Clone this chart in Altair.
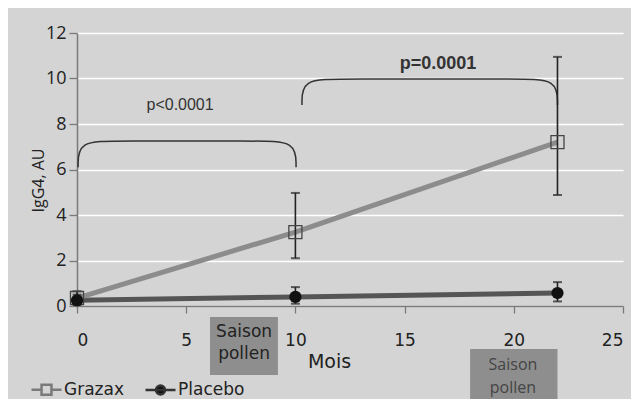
import altair as alt
import pandas as pd

# ---- data ----
months = [0, 10, 22]
grazax = [0.35, 3.25, 7.2]
grazax_lo = [0.1, 2.1, 4.88]
grazax_hi = [0.65, 4.97, 10.95]
placebo = [0.25, 0.4, 0.57]
placebo_lo = [0.05, 0.1, 0.2]
placebo_hi = [0.5, 0.83, 1.05]
series_names = ["Grazax", "Placebo"]

x_ticks = [0, 5, 10, 15, 20, 25]
y_ticks = [0, 2, 4, 6, 8, 10, 12]

# significance brackets (data units)
bracket_x0 = [0.05, 10.3]
bracket_x1 = [10.03, 22.0]
bracket_low = [6.1, 8.84]
bracket_top = [7.25, 9.98]
bracket_corner = [1.8, 1.8]

p_labels = ["p<0.0001", "p=0.0001"]
p_x = [4.72, 16.53]
p_y = [8.84, 10.64]

# pollen season boxes (data units, below the axis)
season_text = ["Saison\npollen", "Saison\npollen"]
season_x0 = [6.09, 18.0]
season_x1 = [9.2, 22.0]
season_y0 = [-0.48, -1.89]
season_y1 = [-3.03, -4.26]
season_tx = [7.65, 19.96]
season_ty = [-1.14, -2.59]

# ---- tables ----
df = pd.DataFrame({
    "month": months * 2,
    "value": grazax + placebo,
    "lo": grazax_lo + placebo_lo,
    "hi": grazax_hi + placebo_hi,
    "series": ["Grazax"] * 3 + ["Placebo"] * 3,
})
df_g = df[df.series == "Grazax"]
df_p = df[df.series == "Placebo"]

rows = []
for b in range(2):
    x0, x1, lo, top, c = bracket_x0[b], bracket_x1[b], bracket_low[b], bracket_top[b], bracket_corner[b]
    pts = [(x0, lo), (x0, top), (x0 + c, top), (x1 - c, top), (x1, top), (x1, lo)]
    for i, (px, py) in enumerate(pts):
        rows.append({"b": b, "i": i, "x": px, "y": py})
df_br = pd.DataFrame(rows)

df_p_lab = pd.DataFrame({"t": p_labels, "x": p_x, "y": p_y})
df_season = pd.DataFrame({"t": season_text, "x0": season_x0, "x1": season_x1,
                          "y0": season_y0, "y1": season_y1, "tx": season_tx, "ty": season_ty})

# ---- scales / axes ----
xs = alt.Scale(domain=[0, 25], nice=False, zero=False)
ys = alt.Scale(domain=[0, 12], nice=False, zero=False)
xaxis = alt.Axis(values=x_ticks, title="Mois", grid=False, labelFont="DejaVu Sans",
                 labelFontSize=17, labelPadding=19, tickSize=7,
                 titleFont="DejaVu Sans", titleFontSize=19, titleFontWeight="normal",
                 titleColor="#222", titleX=252, titleY=61, titleBaseline="alphabetic",
                 titleAlign="center")
yaxis = alt.Axis(values=y_ticks, title="IgG4, AU", grid=True, gridColor="white", gridWidth=1.5,
                 labelFont="Open Sans", labelFontSize=18, labelPadding=3, tickSize=8,
                 titleFont="Open Sans", titleFontSize=16, titleFontWeight="normal",
                 titleColor="#222", titleX=-34, titleY=147, titleAngle=270,
                 titleAlign="center", titleBaseline="alphabetic")


def X(f):
    return alt.X(f, type="quantitative", scale=xs, axis=xaxis)


def Y(f):
    return alt.Y(f, type="quantitative", scale=ys, axis=yaxis)


season_boxes = alt.Chart(df_season).mark_rect(color="#8e8e8e").encode(
    x=X("x0"), x2="x1", y=Y("y0"), y2="y1")
season_t1 = alt.Chart(df_season.iloc[[0]]).mark_text(
    lineBreak="\n", font="DejaVu Sans", fontSize=17, color="#222", lineHeight=22,
    align="center", baseline="middle").encode(x=X("tx"), y=Y("ty"), text="t")
season_t2 = alt.Chart(df_season.iloc[[1]]).mark_text(
    lineBreak="\n", font="Open Sans", fontSize=16, color="#444", lineHeight=23,
    align="center", baseline="middle").encode(x=X("tx"), y=Y("ty"), text="t")

brackets = alt.Chart(df_br).mark_line(color="#333", strokeWidth=1.5, interpolate="basis").encode(
    x=X("x"), y=Y("y"), detail="b:N", order="i:Q")

p1 = alt.Chart(df_p_lab.iloc[[0]]).mark_text(font="Liberation Sans", fontSize=16, color="#333").encode(
    x=X("x"), y=Y("y"), text="t")
p2 = alt.Chart(df_p_lab.iloc[[1]]).mark_text(font="Liberation Sans", fontSize=18, fontWeight="bold",
                                             color="#333").encode(x=X("x"), y=Y("y"), text="t")

line_p = alt.Chart(df_p).mark_line(color="#555", strokeWidth=5).encode(x=X("month"), y=Y("value"))
line_g = alt.Chart(df_g).mark_line(color="#8c8c8c", strokeWidth=5).encode(x=X("month"), y=Y("value"))

err = alt.Chart(df).mark_rule(color="#222", strokeWidth=1.6).encode(x=X("month"), y=Y("lo"), y2="hi")
cap_hi = alt.Chart(df).mark_tick(color="#222", orient="horizontal", size=9, thickness=2).encode(
    x=X("month"), y=Y("hi"))
cap_lo = alt.Chart(df).mark_tick(color="#222", orient="horizontal", size=9, thickness=2).encode(
    x=X("month"), y=Y("lo"))

sq = alt.Chart(df_g).mark_point(shape="square", size=170, filled=False, stroke="#444",
                                strokeWidth=1.3, opacity=1).encode(x=X("month"), y=Y("value"))
circ = alt.Chart(df_p).mark_point(shape="circle", size=150, filled=True, color="#111",
                                  opacity=1).encode(x=X("month"), y=Y("value"))

sym_g = "M-1,0H-0.33M0.33,0H1M-0.33,-0.33H0.33V0.33H-0.33Z"
sym_p = "M-1,0H1M-0.3,0A0.3,0.3,0,1,0,0.3,0A0.3,0.3,0,1,0,-0.3,0Z"
legend_layer = alt.Chart(df).mark_point(opacity=0, filled=True).encode(
    x=X("month"), y=Y("value"),
    shape=alt.Shape("series:N", scale=alt.Scale(domain=series_names, range=[sym_g, sym_p]),
                    legend=alt.Legend(title=None)),
    stroke=alt.Stroke("series:N", scale=alt.Scale(domain=series_names, range=["#7a7a7a", "#333333"]),
                      legend=alt.Legend(title=None)),
    fill=alt.Fill("series:N", scale=alt.Scale(domain=series_names, range=["transparent", "#111111"]),
                  legend=alt.Legend(title=None)),
)

chart = alt.layer(
    season_boxes, brackets, line_p, line_g, err, cap_hi, cap_lo, sq, circ,
    p1, p2, season_t1, season_t2, legend_layer
).properties(
    width=546, height=273,
    autosize=alt.AutoSizeParams(type="none"),
    padding={"left": 69, "top": 25, "right": 8, "bottom": 93},
).configure(
    background="#d4d4d4",
).configure_view(
    stroke=None,
).configure_axis(
    domainColor="#7a7a7a", domainWidth=1.5, tickColor="#7a7a7a", tickWidth=1.3,
    labelColor="#222",
).configure_legend(
    orient="none", legendX=-47, legendY=340, direction="horizontal",
    symbolSize=900, symbolStrokeWidth=2.5, symbolOpacity=1,
    labelFont="DejaVu Sans", labelFontSize=17, labelColor="#222",
    labelOffset=1, columnPadding=16,
)

chart.save("out.html", embed_options={"renderer": "svg", "actions": False})
